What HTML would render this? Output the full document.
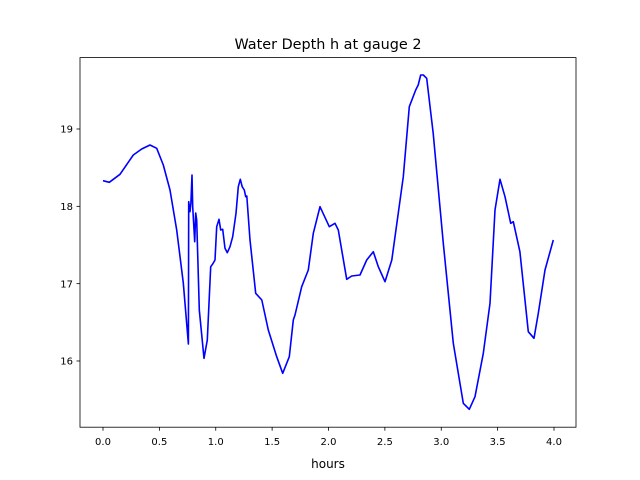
<!DOCTYPE html>
<html><head><meta charset="utf-8"><style>
body{margin:0;background:#fff}
svg{display:block;font-family:"DejaVu Sans","Liberation Sans",sans-serif}
</style></head><body>
<svg id="chart" width="640" height="480">
<rect width="640" height="480" fill="#fff"/>
<text x="328" y="49" font-size="14.4" text-anchor="middle">Water Depth h at gauge 2</text>
<g id="xt"></g>
<g id="yt"></g>
<path id="line" fill="none" stroke="#0000ff" stroke-width="1.6" stroke-linejoin="round"/>
<rect x="80" y="57.6" width="496" height="369.6" fill="none" stroke="#000" stroke-width="0.8"/>
<text x="328" y="468" font-size="12" text-anchor="middle">hours</text>
</svg>
<script>
const hours=[0.0,0.056,0.151,0.269,0.343,0.417,0.476,0.535,0.594,0.654,0.712,0.757,0.760,0.772,0.780,0.789,0.796,0.813,0.822,0.831,0.854,0.896,0.925,0.955,0.973,0.993,1.008,1.029,1.044,1.062,1.082,1.102,1.126,1.150,1.180,1.200,1.218,1.235,1.253,1.266,1.275,1.304,1.354,1.408,1.466,1.541,1.594,1.652,1.688,1.703,1.762,1.821,1.865,1.925,2.007,2.058,2.087,2.161,2.206,2.279,2.339,2.397,2.442,2.501,2.561,2.663,2.717,2.773,2.796,2.818,2.841,2.871,2.929,3.018,3.107,3.196,3.249,3.299,3.373,3.432,3.477,3.521,3.565,3.616,3.639,3.698,3.772,3.823,3.861,3.920,3.994];
const depth=[18.331,18.311,18.414,18.664,18.741,18.793,18.750,18.534,18.211,17.694,17.009,16.220,18.060,17.931,18.043,18.405,17.995,17.543,17.914,17.823,16.659,16.035,16.271,17.219,17.254,17.306,17.737,17.832,17.694,17.703,17.457,17.400,17.478,17.607,17.910,18.254,18.350,18.254,18.211,18.125,18.134,17.565,16.875,16.789,16.401,16.055,15.841,16.055,16.530,16.595,16.961,17.177,17.651,17.995,17.737,17.781,17.694,17.056,17.099,17.112,17.306,17.413,17.219,17.025,17.306,18.383,19.288,19.504,19.569,19.698,19.698,19.656,18.944,17.522,16.229,15.453,15.375,15.538,16.099,16.746,17.953,18.350,18.125,17.781,17.801,17.413,16.379,16.293,16.617,17.177,17.565];
const xTicks=[0,0.5,1,1.5,2,2.5,3,3.5,4];
const xLabels=["0.0","0.5","1.0","1.5","2.0","2.5","3.0","3.5","4.0"];
const yTicks=[16,17,18,19];
const yLabels=["16","17","18","19"];
const X=v=>103+v*112.75;
const Y=v=>129+(19-v)*77.33;
const NS="http://www.w3.org/2000/svg";
function mk(t,a,p){const e=document.createElementNS(NS,t);for(const k in a)e.setAttribute(k,a[k]);p.appendChild(e);return e;}
const xt=document.getElementById('xt'),yt=document.getElementById('yt');
xTicks.forEach((v,i)=>{
 const l=mk('line',{x1:X(v),x2:X(v),y1:427.2,y2:430.7,stroke:'#000','stroke-width':0.8},xt);
 
 
 const t=mk('text',{x:X(v),y:445,'font-size':10,'text-anchor':'middle'},xt);
 t.textContent=xLabels[i];
 
 
});
yTicks.forEach((v,i)=>{
 const l=mk('line',{x1:76.5,x2:80,y1:Y(v),y2:Y(v),stroke:'#000','stroke-width':0.8},yt);
 
 
 const t=mk('text',{x:73,y:Y(v)+3.6,'font-size':10,'text-anchor':'end'},yt);
 t.textContent=yLabels[i];
 
 
});
document.getElementById('line').setAttribute('d',hours.map((h,i)=>(i?'L':'M')+X(h).toFixed(1)+' '+Y(depth[i]).toFixed(1)).join(''));
</script>
</body></html>
